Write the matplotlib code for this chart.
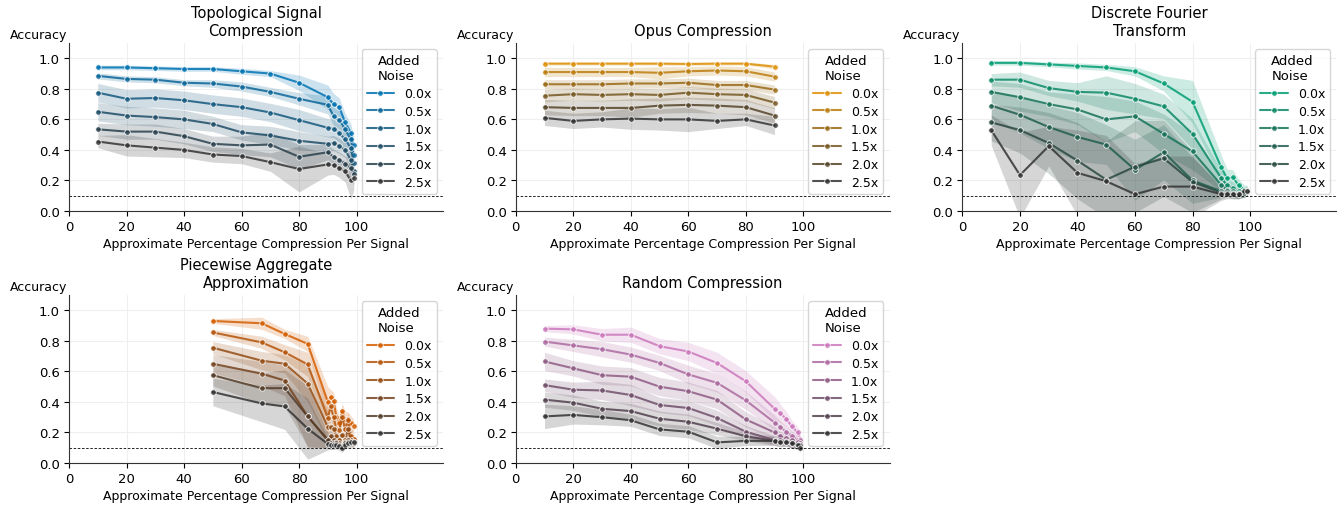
#!/usr/bin/env python3
# accuracy vs compression for the different compression methods, one panel each
import matplotlib
matplotlib.use('Agg')
import matplotlib.pyplot as plt
import numpy as np
import seaborn as sns

noise_labels = ['0.0x', '0.5x', '1.0x', '1.5x', '2.0x', '2.5x']
chance_level = 0.1

# ---------------- Topological Signal Compression ----------------
tsc_x = [10, 20, 30, 40, 50, 60, 70, 80, 90, 92, 94, 96, 98, 99]
tsc_acc = [
    [0.94, 0.94, 0.935, 0.93, 0.93, 0.915, 0.90, 0.84, 0.745, 0.70, 0.68, 0.58, 0.51, 0.43],
    [0.885, 0.865, 0.86, 0.84, 0.835, 0.815, 0.78, 0.735, 0.695, 0.62, 0.595, 0.535, 0.47, 0.37],
    [0.775, 0.735, 0.74, 0.725, 0.70, 0.68, 0.645, 0.595, 0.545, 0.54, 0.51, 0.47, 0.41, 0.315],
    [0.65, 0.625, 0.615, 0.60, 0.57, 0.515, 0.495, 0.46, 0.44, 0.445, 0.425, 0.40, 0.335, 0.265],
    [0.535, 0.52, 0.52, 0.49, 0.44, 0.43, 0.435, 0.355, 0.385, 0.355, 0.335, 0.31, 0.28, 0.24],
    [0.455, 0.43, 0.415, 0.40, 0.37, 0.36, 0.32, 0.275, 0.305, 0.30, 0.28, 0.26, 0.20, 0.215],
]
tsc_err = [
    [0.015, 0.015, 0.015, 0.015, 0.015, 0.02, 0.02, 0.05, 0.08, 0.07, 0.06, 0.06, 0.06, 0.06],
    [0.02, 0.02, 0.02, 0.02, 0.025, 0.03, 0.03, 0.04, 0.06, 0.06, 0.06, 0.06, 0.06, 0.06],
    [0.06, 0.06, 0.06, 0.06, 0.06, 0.06, 0.06, 0.07, 0.06, 0.06, 0.06, 0.06, 0.06, 0.06],
    [0.06, 0.06, 0.06, 0.06, 0.05, 0.05, 0.06, 0.06, 0.05, 0.05, 0.05, 0.05, 0.06, 0.06],
    [0.04, 0.05, 0.05, 0.05, 0.05, 0.06, 0.08, 0.08, 0.05, 0.05, 0.05, 0.05, 0.07, 0.07],
    [0.04, 0.07, 0.06, 0.05, 0.05, 0.05, 0.06, 0.15, 0.07, 0.06, 0.06, 0.07, 0.12, 0.08],
]

# ---------------- Opus Compression ----------------
opus_x = [10, 20, 30, 40, 50, 60, 70, 80, 90]
opus_acc = [
    [0.965, 0.965, 0.965, 0.965, 0.965, 0.963, 0.965, 0.965, 0.945],
    [0.91, 0.91, 0.91, 0.91, 0.905, 0.915, 0.92, 0.915, 0.88],
    [0.83, 0.83, 0.83, 0.835, 0.835, 0.84, 0.825, 0.825, 0.795],
    [0.755, 0.765, 0.76, 0.765, 0.76, 0.775, 0.765, 0.76, 0.71],
    [0.68, 0.675, 0.675, 0.675, 0.69, 0.695, 0.69, 0.68, 0.625],
    [0.61, 0.59, 0.60, 0.605, 0.60, 0.60, 0.59, 0.60, 0.56],
]
opus_err = [
    [0.01, 0.01, 0.01, 0.01, 0.01, 0.01, 0.01, 0.01, 0.015],
    [0.03, 0.03, 0.03, 0.03, 0.04, 0.03, 0.03, 0.03, 0.03],
    [0.03, 0.03, 0.03, 0.03, 0.03, 0.03, 0.03, 0.03, 0.03],
    [0.04, 0.04, 0.04, 0.04, 0.04, 0.04, 0.04, 0.04, 0.04],
    [0.05, 0.05, 0.05, 0.06, 0.05, 0.05, 0.05, 0.05, 0.05],
    [0.05, 0.05, 0.05, 0.07, 0.07, 0.08, 0.05, 0.04, 0.06],
]

# ---------------- Discrete Fourier Transform ----------------
dft_x = [10, 20, 30, 40, 50, 60, 70, 80, 90, 92, 94, 96, 98, 99]
dft_acc = [
    [0.97, 0.97, 0.96, 0.95, 0.94, 0.915, 0.835, 0.715, 0.285, 0.215, 0.22, 0.17, 0.14, 0.14],
    [0.86, 0.86, 0.805, 0.78, 0.775, 0.735, 0.685, 0.505, 0.215, 0.17, 0.15, 0.13, 0.12, 0.13],
    [0.78, 0.745, 0.70, 0.665, 0.60, 0.62, 0.505, 0.39, 0.17, 0.14, 0.13, 0.12, 0.12, 0.13],
    [0.69, 0.63, 0.55, 0.485, 0.435, 0.27, 0.385, 0.20, 0.13, 0.13, 0.12, 0.11, 0.12, 0.13],
    [0.58, 0.53, 0.445, 0.33, 0.205, 0.29, 0.345, 0.19, 0.12, 0.12, 0.11, 0.11, 0.12, 0.13],
    [0.53, 0.235, 0.425, 0.25, 0.195, 0.11, 0.16, 0.16, 0.11, 0.11, 0.11, 0.11, 0.13, 0.13],
]
dft_err = [
    [0.015, 0.015, 0.015, 0.02, 0.02, 0.03, 0.05, 0.14, 0.08, 0.06, 0.05, 0.04, 0.03, 0.03],
    [0.04, 0.05, 0.05, 0.06, 0.11, 0.1, 0.08, 0.1, 0.05, 0.04, 0.04, 0.03, 0.03, 0.03],
    [0.07, 0.09, 0.08, 0.1, 0.15, 0.1, 0.13, 0.12, 0.04, 0.04, 0.03, 0.03, 0.03, 0.03],
    [0.1, 0.12, 0.14, 0.16, 0.13, 0.2, 0.18, 0.15, 0.04, 0.03, 0.03, 0.03, 0.03, 0.03],
    [0.12, 0.15, 0.2, 0.25, 0.25, 0.3, 0.25, 0.2, 0.04, 0.03, 0.03, 0.03, 0.03, 0.03],
    [0.1, 0.28, 0.13, 0.28, 0.3, 0.2, 0.2, 0.2, 0.04, 0.03, 0.03, 0.03, 0.03, 0.03],
]

# ---------------- Piecewise Aggregate Approximation ----------------
paa_x = [50, 67, 75, 83, 90, 91, 92, 93, 94, 95, 96, 97, 98, 99]
paa_acc = [
    [0.93, 0.915, 0.845, 0.78, 0.40, 0.43, 0.405, 0.30, 0.26, 0.34, 0.29, 0.285, 0.26, 0.245],
    [0.855, 0.79, 0.725, 0.645, 0.295, 0.37, 0.30, 0.22, 0.215, 0.30, 0.22, 0.28, 0.18, 0.16],
    [0.755, 0.67, 0.65, 0.52, 0.235, 0.235, 0.22, 0.18, 0.15, 0.185, 0.15, 0.22, 0.15, 0.14],
    [0.65, 0.585, 0.54, 0.305, 0.15, 0.175, 0.15, 0.14, 0.13, 0.12, 0.14, 0.15, 0.14, 0.135],
    [0.575, 0.49, 0.49, 0.305, 0.15, 0.13, 0.13, 0.13, 0.12, 0.11, 0.13, 0.14, 0.13, 0.13],
    [0.465, 0.39, 0.37, 0.225, 0.125, 0.12, 0.12, 0.12, 0.11, 0.10, 0.12, 0.13, 0.14, 0.135],
]
paa_err = [
    [0.015, 0.04, 0.03, 0.05, 0.1, 0.05, 0.06, 0.06, 0.05, 0.05, 0.05, 0.05, 0.05, 0.04],
    [0.02, 0.04, 0.05, 0.08, 0.1, 0.08, 0.08, 0.06, 0.06, 0.06, 0.05, 0.05, 0.05, 0.04],
    [0.04, 0.06, 0.06, 0.12, 0.1, 0.06, 0.06, 0.05, 0.04, 0.05, 0.04, 0.05, 0.04, 0.03],
    [0.06, 0.08, 0.1, 0.2, 0.05, 0.05, 0.04, 0.04, 0.03, 0.03, 0.03, 0.04, 0.03, 0.03],
    [0.07, 0.1, 0.12, 0.2, 0.05, 0.04, 0.04, 0.03, 0.03, 0.03, 0.03, 0.03, 0.03, 0.03],
    [0.09, 0.12, 0.15, 0.2, 0.04, 0.03, 0.03, 0.03, 0.03, 0.03, 0.03, 0.03, 0.03, 0.03],
]

# ---------------- Random Compression ----------------
rnd_x = [10, 20, 30, 40, 50, 60, 70, 80, 90, 92, 94, 96, 98, 99]
rnd_acc = [
    [0.88, 0.875, 0.84, 0.84, 0.765, 0.73, 0.655, 0.535, 0.355, 0.325, 0.29, 0.24, 0.20, 0.16],
    [0.795, 0.77, 0.745, 0.71, 0.655, 0.58, 0.525, 0.41, 0.265, 0.235, 0.205, 0.18, 0.15, 0.15],
    [0.665, 0.62, 0.575, 0.565, 0.50, 0.47, 0.415, 0.285, 0.20, 0.175, 0.165, 0.15, 0.135, 0.13],
    [0.51, 0.48, 0.475, 0.445, 0.38, 0.36, 0.295, 0.205, 0.15, 0.15, 0.145, 0.13, 0.12, 0.12],
    [0.415, 0.395, 0.355, 0.34, 0.29, 0.27, 0.225, 0.175, 0.145, 0.135, 0.14, 0.13, 0.12, 0.12],
    [0.305, 0.315, 0.30, 0.28, 0.22, 0.205, 0.135, 0.145, 0.145, 0.14, 0.14, 0.13, 0.12, 0.10],
]
rnd_err = [
    [0.02, 0.03, 0.04, 0.05, 0.05, 0.06, 0.07, 0.07, 0.08, 0.06, 0.05, 0.04, 0.04, 0.03],
    [0.03, 0.04, 0.05, 0.05, 0.05, 0.06, 0.06, 0.06, 0.05, 0.04, 0.04, 0.03, 0.03, 0.03],
    [0.06, 0.05, 0.06, 0.06, 0.06, 0.06, 0.06, 0.05, 0.04, 0.03, 0.03, 0.03, 0.03, 0.03],
    [0.04, 0.05, 0.06, 0.07, 0.05, 0.05, 0.05, 0.04, 0.03, 0.03, 0.03, 0.03, 0.03, 0.03],
    [0.05, 0.05, 0.05, 0.05, 0.05, 0.05, 0.04, 0.03, 0.03, 0.03, 0.03, 0.03, 0.03, 0.03],
    [0.08, 0.06, 0.05, 0.04, 0.04, 0.04, 0.04, 0.03, 0.03, 0.03, 0.03, 0.03, 0.03, 0.03],
]

panels = [
    ('Topological Signal\nCompression', tsc_x, tsc_acc, tsc_err, '#0173b2'),
    ('Opus Compression', opus_x, opus_acc, opus_err, '#de8f05'),
    ('Discrete Fourier\nTransform', dft_x, dft_acc, dft_err, '#029e73'),
    ('Piecewise Aggregate\nApproximation', paa_x, paa_acc, paa_err, '#d55e00'),
    ('Random Compression', rnd_x, rnd_acc, rnd_err, '#cc78bc'),
]


def main():
    sns.set_style('ticks')
    plt.rcParams['font.family'] = ['DejaVu Sans']
    plt.rcParams['text.color'] = 'black'
    plt.rcParams['axes.labelcolor'] = 'black'
    plt.rcParams['xtick.color'] = 'black'
    plt.rcParams['ytick.color'] = 'black'
    plt.rcParams['axes.edgecolor'] = '#333333'

    fig, axes = plt.subplots(2, 3, figsize=(13.43, 5.06), dpi=100)
    fig.subplots_adjust(left=0.0514, right=0.995, top=0.913, bottom=0.083,
                        wspace=0.195, hspace=0.5)
    axes = axes.flatten()

    for ax, (title, xs, acc, err, base) in zip(axes, panels):
        colors = sns.blend_palette([base, '#333333'], len(noise_labels))
        x = np.array(xs)
        for i, lab in enumerate(noise_labels):
            y = np.array(acc[i])
            e = np.array(err[i])
            ax.fill_between(x, y - e, y + e, color=colors[i], alpha=0.2, lw=0)
            ax.plot(x, y, color=colors[i], lw=1.5, marker='o', ms=4,
                    mec='white', mew=0.6, alpha=0.85, label=lab)
        ax.axhline(chance_level, color='black', ls='--', lw=0.6, dashes=(3, 2))
        ax.set_xlim(0, 130)
        ax.set_ylim(0, 1.1)
        ax.set_xticks([0, 20, 40, 60, 80, 100])
        ax.set_yticks([0.0, 0.2, 0.4, 0.6, 0.8, 1.0])
        ax.tick_params(labelsize=9.5, pad=3)
        ax.grid(True, color='#efefef', lw=0.8)
        ax.set_axisbelow(True)
        ax.set_title(title, fontsize=10.5)
        ax.set_xlabel('Approximate Percentage Compression Per Signal',
                      fontsize=9, labelpad=3)
        ax.text(-0.005, 1.01, 'Accuracy', transform=ax.transAxes, ha='right',
                va='bottom', fontsize=9)
        leg = ax.legend(title='Added\nNoise', loc='upper right', fontsize=9,
                        title_fontsize=9.5, borderaxespad=0.5,
                        labelspacing=0.38, handlelength=2.2)
        leg.get_title().set_multialignment('left')
        sns.despine(ax=ax)

    axes[5].remove()
    fig.savefig('out.png', dpi=100)
    plt.close(fig)


if __name__ == '__main__':
    main()
